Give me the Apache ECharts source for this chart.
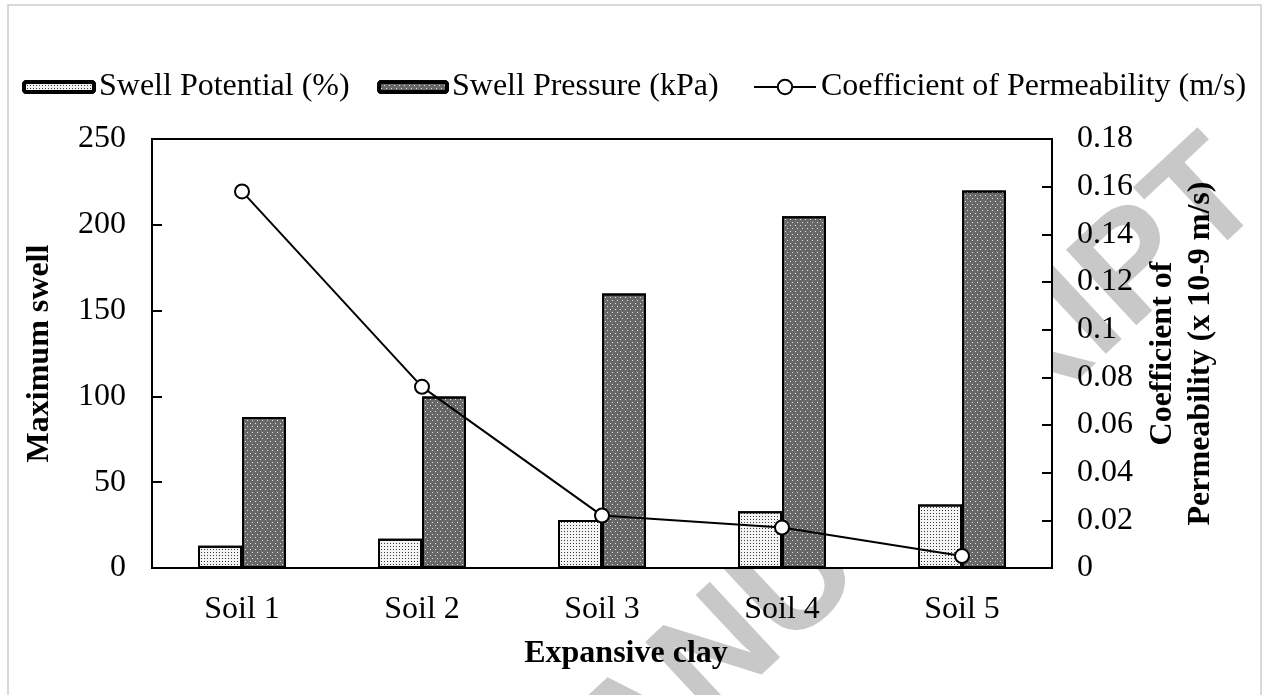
<!DOCTYPE html>
<html>
<head>
<meta charset="utf-8">
<script src="https://cdn.jsdelivr.net/npm/echarts@6/dist/echarts.min.js"></script>
<style>
  html, body { margin: 0; padding: 0; background: #fff; }
  #chart { width: 1266px; height: 695px; }
</style>
</head>
<body>
<div id="chart"></div>
<script>
// data
var soils = ["Soil 1", "Soil 2", "Soil 3", "Soil 4", "Soil 5"];
var swellPotential = [13, 17, 28, 33, 37];
var swellPressure = [88, 100, 160, 205, 220];
var permeability = [0.158, 0.076, 0.022, 0.017, 0.005];

var serif = "'Liberation Serif', 'Times New Roman', serif";

var chart = echarts.init(document.getElementById("chart"));

var option = {
  backgroundColor: "#fff",
  animation: false,
  textStyle: { fontFamily: serif, color: "#000" },
  // light page frame + watermark behind the plot area
  graphic: [
    {
      type: "rect",
      z: -2,
      shape: { x: 8, y: 5, width: 1253, height: 700 },
      style: { fill: "none", stroke: "#d9d9d9", lineWidth: 2 },
    },
    {
      type: "text",
      z: -1,
      x: 1292,
      y: 226,
      rotation: (43 * Math.PI) / 180,
      style: {
        text: "ACCEPTED MANUSCRIPT",
        align: "right",
        verticalAlign: "bottom",
        fontFamily: "'Liberation Sans', Arial, sans-serif",
        fontWeight: "bold",
        fontSize: 150,
        fill: "#c8c8c8",
      },
    },
  ],
  legend: [
    {
      data: ["Swell Potential (%)"],
      left: 22,
      top: 71,
      padding: 0,
      itemWidth: 70,
      itemHeight: 10,
      textStyle: { fontFamily: serif, fontSize: 32, color: "#000" },
      itemStyle: { borderColor: "#000", borderWidth: 4 },
    },
    {
      data: ["Swell Pressure (kPa)"],
      left: 377,
      top: 71,
      padding: 0,
      itemWidth: 68,
      itemHeight: 10,
      textStyle: { fontFamily: serif, fontSize: 32, color: "#000" },
      itemStyle: { borderColor: "#000", borderWidth: 4 },
    },
    {
      data: ["Coefficient of Permeability (m/s)"],
      left: 753,
      top: 71,
      padding: 0,
      itemWidth: 62,
      itemHeight: 18,
      textStyle: { fontFamily: serif, fontSize: 32, color: "#000" },
    },
  ],
  grid: {
    left: 152,
    right: 214,
    top: 139,
    bottom: 127,
    show: true,
    backgroundColor: "#fff",
    borderColor: "#000",
    borderWidth: 2,
  },
  xAxis: {
    type: "category",
    data: soils,
    name: "Expansive clay",
    nameLocation: "middle",
    nameGap: 70,
    nameTextStyle: {
      fontFamily: serif,
      fontSize: 32,
      fontWeight: "bold",
      color: "#000",
      padding: [0, 0, 0, 48],
    },
    axisLine: { lineStyle: { color: "#000", width: 2 } },
    axisTick: { show: false },
    axisLabel: { fontFamily: serif, fontSize: 32, color: "#000", margin: 26 },
  },
  yAxis: [
    {
      type: "value",
      min: 0,
      max: 250,
      interval: 50,
      name: "Maximum swell",
      nameLocation: "middle",
      nameGap: 96,
      nameTextStyle: {
        fontFamily: serif,
        fontSize: 32,
        fontWeight: "bold",
        color: "#000",
      },
      axisLine: { show: true, lineStyle: { color: "#000", width: 2 } },
      axisTick: { show: true, inside: true, length: 10, lineStyle: { color: "#000", width: 2 } },
      axisLabel: { fontFamily: serif, fontSize: 32, color: "#000", margin: 26 },
      splitLine: { show: false },
    },
    {
      type: "value",
      min: 0,
      max: 0.18,
      interval: 0.02,
      position: "right",
      name: "Coefficient of\nPermeability (x 10-9 m/s)",
      nameLocation: "middle",
      nameGap: 90,
      nameTextStyle: {
        fontFamily: serif,
        fontSize: 32,
        fontWeight: "bold",
        color: "#000",
        lineHeight: 38,
        align: "center",
      },
      axisLine: { show: true, lineStyle: { color: "#000", width: 2 } },
      axisTick: { show: true, inside: true, length: 10, lineStyle: { color: "#000", width: 2 } },
      axisLabel: {
        fontFamily: serif,
        fontSize: 32,
        color: "#000",
        margin: 25,
        formatter: function (v) {
          return String(+v.toFixed(2));
        },
      },
      splitLine: { show: false },
    },
  ],
  series: [
    {
      name: "Swell Potential (%)",
      type: "bar",
      data: swellPotential,
      barWidth: 44,
      barGap: "0%",
      itemStyle: {
        color: "#f4f4f4",
        borderColor: "#000",
        borderWidth: 2,
        decal: {
          symbol: "rect",
          symbolSize: 1,
          color: "#3a3a3a",
          dashArrayX: [1, 2],
          dashArrayY: [1, 2],
        },
      },
    },
    {
      name: "Swell Pressure (kPa)",
      type: "bar",
      data: swellPressure,
      barWidth: 44,
      barGap: "0%",
      itemStyle: {
        color: "#686868",
        borderColor: "#000",
        borderWidth: 2,
        decal: {
          symbol: "rect",
          symbolSize: 1,
          color: "#e0e0e0",
          dashArrayX: [[1, 4], [0, 2, 1, 2]],
          dashArrayY: [1, 2],
        },
      },
    },
    {
      name: "Coefficient of Permeability (m/s)",
      type: "line",
      yAxisIndex: 1,
      data: permeability,
      symbol: "circle",
      symbolSize: 14,
      z: 5,
      lineStyle: { color: "#000", width: 2 },
      itemStyle: { color: "#fff", borderColor: "#000", borderWidth: 2 },
    },
  ],
};

chart.setOption(option);
</script>
</body>
</html>
